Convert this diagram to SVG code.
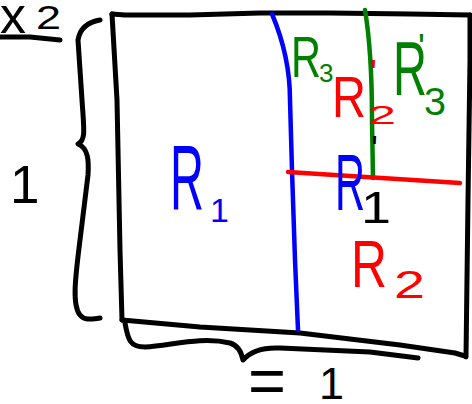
<svg xmlns="http://www.w3.org/2000/svg" width="472" height="404" viewBox="0 0 472 404">
<style>
.s{fill:none;stroke-linecap:round;stroke-linejoin:round}
.k{stroke:#000;stroke-width:5}
.b{stroke:#0000ff;stroke-width:4.5}
.r{stroke:#ff0000;stroke-width:4.5}
.g{stroke:#008000;stroke-width:4.5}
text{font-family:"Liberation Sans","DejaVu Sans",sans-serif}
.tb{fill:#0000ff}.tr{fill:#ff0000}.tg{fill:#008000}.tk{fill:#000}
</style>
<rect width="472" height="404" fill="#fff"/>
<g id="frame">
<path class="s k" d="M112,14 L125,15 L190,15 L260,13 L330,13 L410,14 L470,15"/>
<path class="s k" d="M112,14 L117,100 L120,250 L122,320"/>
<path class="s k" d="M122,320 L200,327 L300,333 L400,345 L455,353 L465,356"/>
<path class="s k" d="M470,15 L470,60 L468,200 L466,357"/>
</g>
<g id="connectors">
<path class="s b" d="M272,14 C283,40 290,70 290,100 L292,170 L295,260 L298,330"/>
<path class="s g" d="M365,10 C370,40 372,80 372,120 L373,178"/>
<path class="s r" d="M288,172 L350,176 L460,183"/>
</g>
<g id="brace-left">
<path class="s k" d="M100,20 C88,22 80,28 78,40 L82,100 C84,130 86,140 78,144 C88,148 89,160 88,175 L80,240 C75,280 72,305 80,315 C85,321 92,319 100,318"/>
</g>
<g id="brace-bottom">
<path class="s k" d="M125,323 C128,340 130,347 145,347 C170,346 200,336 230,343 C240,346 242,355 243,360 C250,352 260,347 280,348 L370,352 L418,358"/>
</g>
<g id="label-x2">
<text class="tk" x="0" y="33" font-size="52" textLength="26" lengthAdjust="spacingAndGlyphs">x</text>
<text class="tk" x="36" y="29" font-size="34" textLength="25" lengthAdjust="spacingAndGlyphs">2</text>
<path class="s k" d="M0,37 L30,37 L60,40"/>
</g>
<g id="label-height">
<text class="tk" x="10" y="203" font-size="53">1</text>
</g>
<g id="label-width">
<text class="tk" x="248" y="403" font-size="64" textLength="38" lengthAdjust="spacingAndGlyphs">=</text>
<text class="tk" x="319" y="399" font-size="45">1</text>
</g>
<g id="R1">
<text class="tb" x="170" y="210" font-size="93" textLength="34" lengthAdjust="spacingAndGlyphs">R</text>
<text class="tb" x="210" y="222" font-size="34">1</text>
</g>
<g id="R3">
<text class="tg" x="291" y="77" font-size="58" textLength="30" lengthAdjust="spacingAndGlyphs">R</text>
<text class="tg" x="319" y="82" font-size="26">3</text>
</g>
<g id="R2prime">
<text class="tr" x="332" y="117" font-size="58" textLength="34" lengthAdjust="spacingAndGlyphs">R</text>
<text class="tr" x="368" y="124" font-size="26" textLength="28" lengthAdjust="spacingAndGlyphs">2</text>
<text class="tr" x="370" y="86" font-size="36">'</text>
</g>
<g id="R3prime">
<text class="tg" x="393" y="95" font-size="76" textLength="34" lengthAdjust="spacingAndGlyphs">R</text>
<text class="tg" x="424" y="115" font-size="38" textLength="22" lengthAdjust="spacingAndGlyphs">3</text>
<text class="tg" x="418" y="60" font-size="36">'</text>
</g>
<g id="R1prime">
<text class="tb" x="335" y="210" font-size="80" textLength="30" lengthAdjust="spacingAndGlyphs">R</text>
<text class="tk" x="361" y="223" font-size="44" textLength="30" lengthAdjust="spacingAndGlyphs">1</text>
<text class="tk" x="371" y="162" font-size="36">'</text>
</g>
<g id="R2">
<text class="tr" x="351" y="287" font-size="66" textLength="36" lengthAdjust="spacingAndGlyphs">R</text>
<text class="tr" x="394" y="298" font-size="38" textLength="31" lengthAdjust="spacingAndGlyphs">2</text>
</g>
</svg>
